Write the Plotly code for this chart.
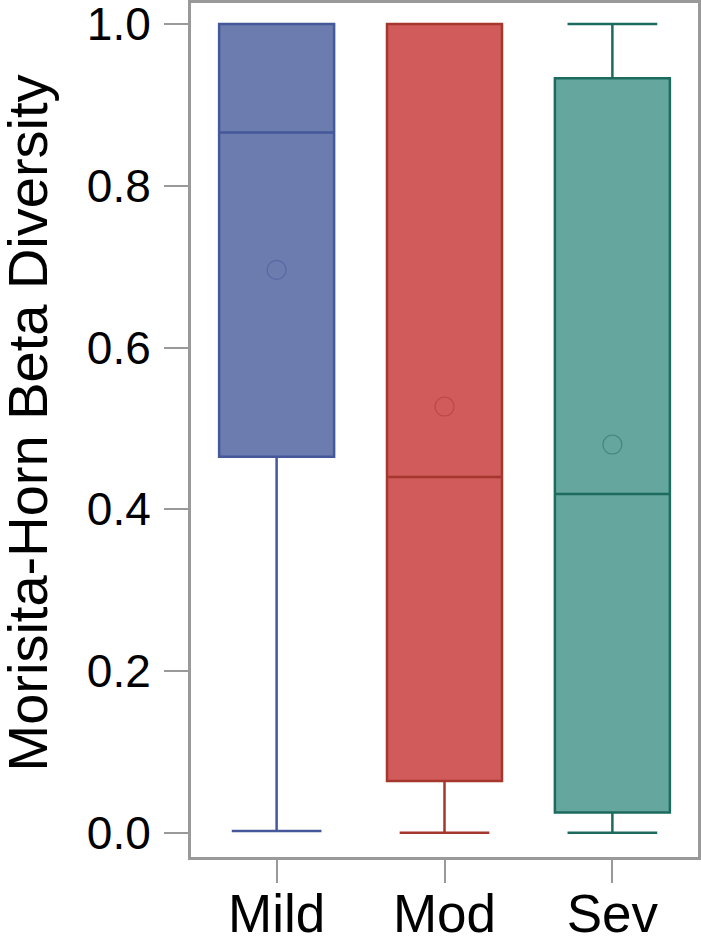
import plotly.graph_objects as go

# ---------------------------------------------------------
#  data
# ---------------------------------------------------------
groups = ["Mild", "Mod", "Sev"]
lower_whisker = [0.002, 0.0, 0.0]
q1_vals = [0.465, 0.064, 0.025]
median_vals = [0.866, 0.440, 0.419]
q3_vals = [1.0, 1.0, 0.933]
upper_whisker = [1.0, 1.0, 1.0]
mean_vals = [0.696, 0.527, 0.480]

y_ticks = [0.0, 0.2, 0.4, 0.6, 0.8, 1.0]

FILL = ["#6C7CAE", "#D05B5A", "#65A69E"]
EDGE = ["#44589A", "#A5372F", "#1D6B5F"]
MEAN_COL = ["rgba(68,88,154,0.55)", "rgba(165,55,47,0.55)", "rgba(29,107,95,0.55)"]
FRAME = "#999999"
FONT = "Liberation Sans, Arial, sans-serif"

fig = go.Figure()

for i, g in enumerate(groups):
    fig.add_trace(go.Box(
        x=[g],
        q1=[q1_vals[i]],
        median=[median_vals[i]],
        q3=[q3_vals[i]],
        lowerfence=[lower_whisker[i]],
        upperfence=[upper_whisker[i]],
        fillcolor=FILL[i],
        line=dict(color=EDGE[i], width=2.5),
        width=0.685,
        whiskerwidth=0.78,
        boxpoints=False,
        hoverinfo="skip",
        showlegend=False,
    ))
    fig.add_trace(go.Scatter(
        x=[g],
        y=[mean_vals[i]],
        mode="markers",
        marker=dict(symbol="circle-open", size=19,
                    color=MEAN_COL[i], line=dict(width=1.1)),
        hoverinfo="skip",
        showlegend=False,
    ))

fig.update_layout(
    width=701,
    height=937,
    margin=dict(l=191, r=3, t=3, b=80, autoexpand=False),
    paper_bgcolor="white",
    plot_bgcolor="white",
    boxmode="overlay",
    font=dict(family=FONT, color="black"),
    xaxis=dict(
        type="category",
        categoryorder="array",
        categoryarray=groups,
        range=[-0.51, 2.51],
        automargin=False,
        showgrid=False,
        zeroline=False,
        showline=True,
        mirror=True,
        linecolor=FRAME,
        linewidth=3,
        ticks="outside",
        ticklen=23,
        tickwidth=2,
        tickcolor=FRAME,
        tickfont=dict(size=53, family=FONT, color="black"),
        ticklabelstandoff=-15,
        ticklabeloverflow="allow",
    ),
    yaxis=dict(
        range=[-0.030, 1.026],
        tickvals=y_ticks,
        ticktext=[f"{v:.1f}" for v in y_ticks],
        automargin=False,
        showgrid=False,
        zeroline=False,
        showline=True,
        mirror=True,
        linecolor=FRAME,
        linewidth=3,
        ticks="outside",
        ticklen=24,
        tickwidth=2,
        tickcolor=FRAME,
        tickfont=dict(size=46, family=FONT, color="black"),
        ticklabelstandoff=4,
        ticklabeloverflow="allow",
    ),
)

# y title as annotation so its position is fixed
fig.add_annotation(
    text="Morisita-Horn Beta Diversity",
    xref="paper", yref="paper",
    x=-0.3235, y=0.5088,
    xanchor="center", yanchor="middle",
    textangle=-90,
    showarrow=False,
    font=dict(size=56, family=FONT, color="black"),
)

# drop the default 8px body margin so the figure fills the window exactly
fig.write_html(
    "out.html",
    config={"displayModeBar": False},
    post_script="document.body.style.margin='0';",
)
